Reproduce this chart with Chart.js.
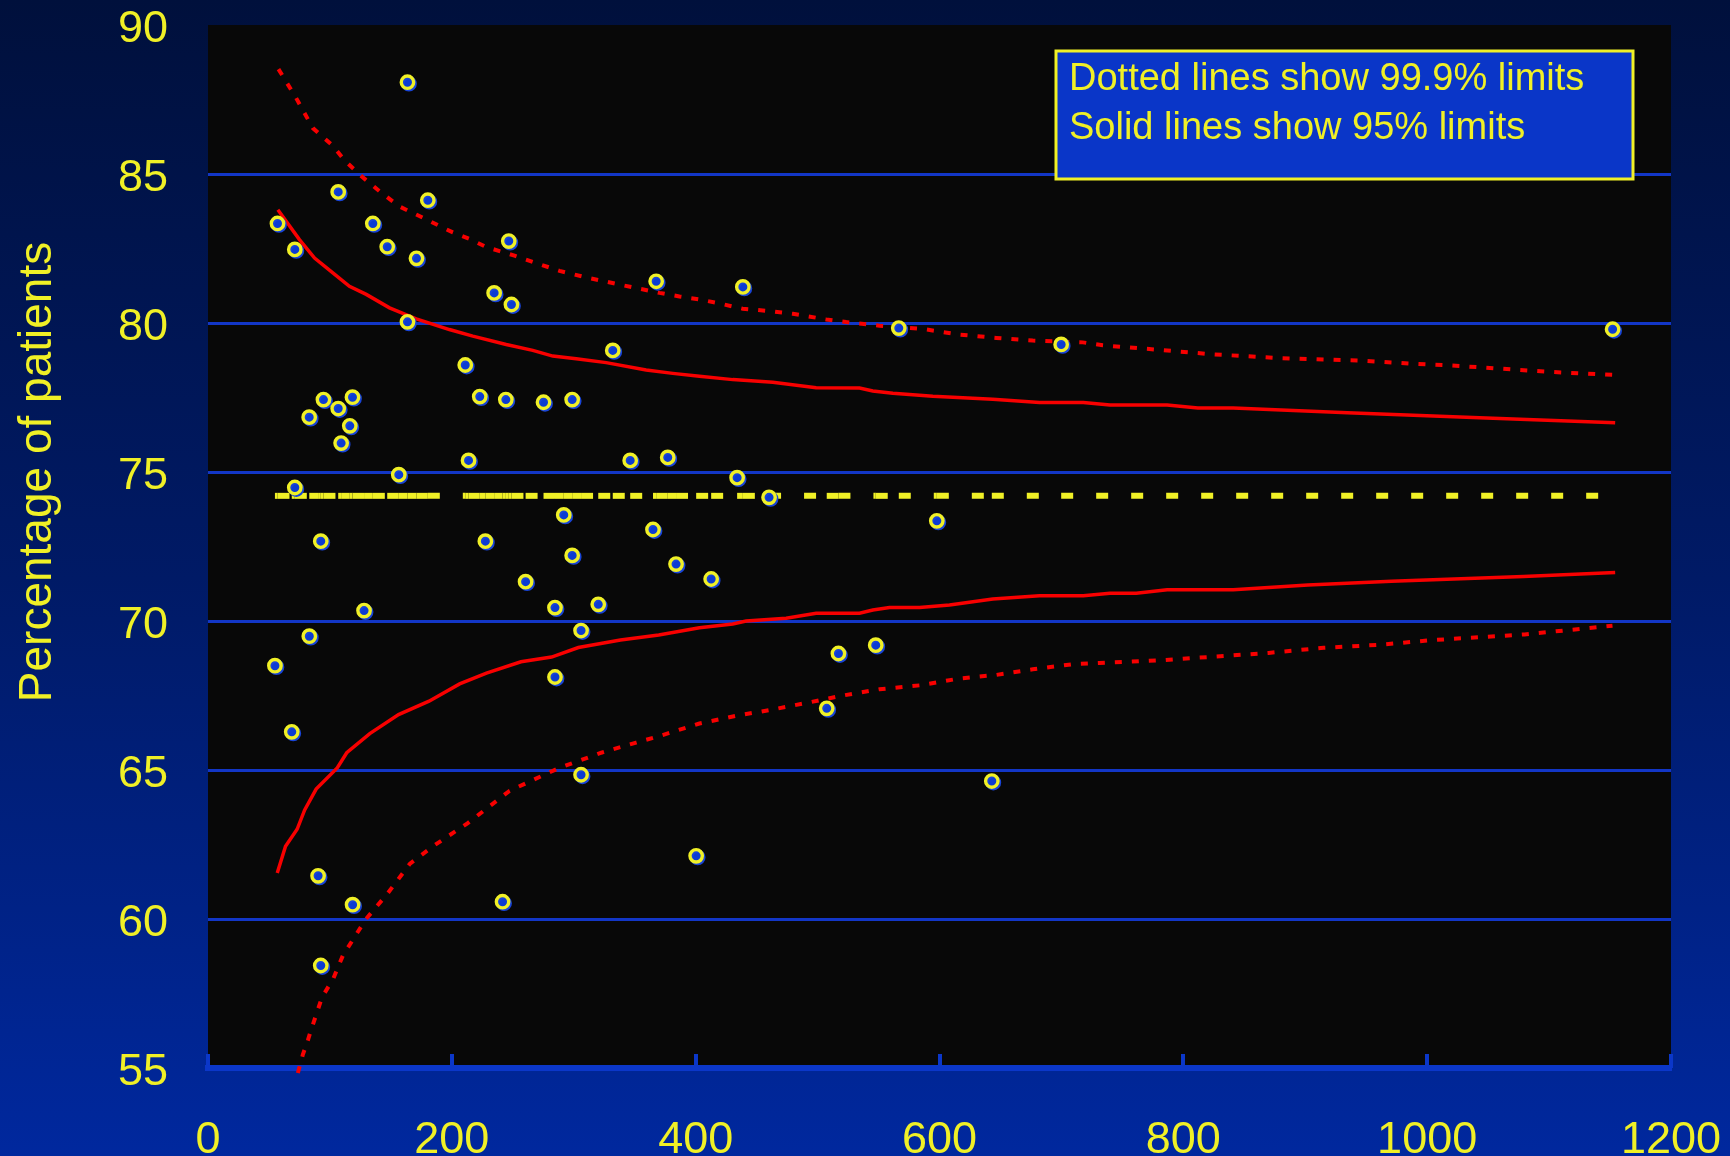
<!DOCTYPE html>
<html>
<head>
<meta charset="utf-8">
<script src="https://cdn.jsdelivr.net/npm/chart.js@4/dist/chart.umd.min.js"></script>
<style>
  html, body { margin: 0; padding: 0; width: 1730px; height: 1156px; overflow: hidden; background: #001a66; }
  #chart { display: block; }
</style>
</head>
<body>
<canvas id="chart" width="1730" height="1156"></canvas>
<script>
// Unit size (number of patients) and percentage achieved for each unit
const unitSize = [
  57.0, 71.2, 163.6, 106.8, 180.3, 135.2, 147.0, 171.0, 246.7, 367.6,
  438.7, 234.7, 248.9, 163.6, 566.6, 699.8, 1152.1, 332.0, 211.0, 94.7,
  118.5, 106.8, 222.9, 244.3, 275.2, 298.7, 83.0, 116.3, 109.2, 213.7,
  346.3, 377.1, 156.5, 434.0, 460.2, 71.2, 291.8, 597.8, 365.0, 92.5,
  227.5, 298.7, 383.9, 412.7, 260.5, 320.1, 284.6, 128.0, 306.0, 83.1,
  547.7, 517.1, 54.9, 284.6, 507.5, 68.7, 642.9, 306.0, 400.4, 90.3,
  118.6, 241.6, 92.5
];
const unitPercent = [
  83.34, 82.47, 88.08, 84.40, 84.12, 83.34, 82.56, 82.17, 82.75, 81.40,
  81.21, 81.01, 80.62, 80.04, 79.83, 79.28, 79.79, 79.08, 78.59, 77.43,
  77.51, 77.13, 77.53, 77.43, 77.34, 77.43, 76.84, 76.55, 75.97, 75.39,
  75.39, 75.49, 74.91, 74.81, 74.15, 74.48, 73.56, 73.36, 73.07, 72.68,
  72.68, 72.20, 71.91, 71.41, 71.32, 70.56, 70.45, 70.35, 69.68, 69.49,
  69.19, 68.91, 68.50, 68.12, 67.07, 66.28, 64.63, 64.84, 62.12, 61.45,
  60.48, 60.58, 58.44
];
// Overall percentage across all units
const overallPercent = 74.2;

// Control limits, [unit size, percentage]
const upper999 = [
  [57.8, 88.52], [72.3, 87.55], [86.0, 86.54], [102.4, 85.95], [112.0, 85.46],
  [124.3, 84.98], [140.7, 84.42], [157.0, 83.91], [170.8, 83.64], [200.8, 83.04],
  [214.5, 82.82], [228.2, 82.55], [251.4, 82.26], [266.4, 82.05], [288.3, 81.75],
  [310.2, 81.53], [337.5, 81.29], [370.3, 81.01], [386.7, 80.89], [403.1, 80.79],
  [416.8, 80.68], [438.6, 80.48], [460.5, 80.40], [479.7, 80.31], [507.0, 80.12],
  [523.5, 80.03], [550.8, 79.91], [586.3, 79.80], [616.4, 79.61], [646.5, 79.50],
  [676.5, 79.41], [717.5, 79.35], [734.0, 79.25], [780.0, 79.10], [824.0, 78.95],
  [880.0, 78.82], [945.5, 78.74], [988.8, 78.63], [1017.7, 78.58], [1059.3, 78.47],
  [1100.8, 78.36], [1152.0, 78.26]
];
const upper95 = [
  [57.3, 83.80], [75.0, 82.80], [87.4, 82.18], [102.4, 81.68], [116.0, 81.23],
  [129.8, 80.96], [148.9, 80.51], [170.8, 80.14], [198.0, 79.78], [217.2, 79.56],
  [244.6, 79.28], [266.4, 79.08], [282.8, 78.89], [302.0, 78.80], [326.6, 78.67],
  [359.4, 78.42], [381.2, 78.31], [403.1, 78.21], [430.4, 78.10], [463.3, 78.01],
  [498.8, 77.83], [534.4, 77.82], [545.3, 77.72], [561.7, 77.64], [594.5, 77.54],
  [643.7, 77.44], [682.0, 77.33], [718.0, 77.33], [739.8, 77.25], [786.7, 77.25],
  [811.9, 77.15], [840.9, 77.15], [934.6, 76.99], [1042.9, 76.82], [1154.2, 76.65]
];
const lower95 = [
  [56.8, 61.54], [63.6, 62.44], [73.1, 63.01], [79.3, 63.66], [88.7, 64.36],
  [106.0, 65.07], [113.8, 65.58], [132.7, 66.22], [156.3, 66.86], [181.3, 67.31],
  [206.4, 67.89], [228.4, 68.25], [256.7, 68.63], [281.8, 68.79], [303.8, 69.11],
  [338.3, 69.36], [369.7, 69.53], [403.1, 69.77], [430.4, 69.90], [441.4, 70.00],
  [474.2, 70.09], [498.8, 70.26], [534.4, 70.26], [545.3, 70.37], [559.0, 70.45],
  [583.6, 70.45], [608.2, 70.54], [643.7, 70.74], [682.0, 70.85], [718.0, 70.85],
  [739.8, 70.93], [761.4, 70.93], [786.7, 71.05], [840.9, 71.05], [902.2, 71.21],
  [970.7, 71.33], [1079.0, 71.49], [1154.2, 71.63]
];
const lower999 = [
  [73.7, 54.83], [77.8, 55.45], [81.9, 55.93], [84.1, 56.22], [93.5, 57.37],
  [102.9, 58.01], [110.7, 58.78], [121.7, 59.49], [129.6, 60.00], [146.8, 60.83],
  [165.7, 61.86], [184.5, 62.44], [212.8, 63.21], [247.3, 64.30], [288.1, 65.07],
  [322.6, 65.58], [351.2, 65.92], [370.3, 66.14], [403.1, 66.56], [435.9, 66.84],
  [460.5, 67.01], [493.4, 67.27], [520.7, 67.50], [550.8, 67.71], [583.6, 67.84],
  [616.4, 68.07], [646.5, 68.19], [676.5, 68.38], [709.3, 68.55], [731.2, 68.59],
  [780.0, 68.68], [824.0, 68.80], [870.0, 68.93], [915.0, 69.10], [960.0, 69.20],
  [1005.0, 69.36], [1080.0, 69.55], [1152.0, 69.84]
];

// Axis ticks and texts
const xTickValues = [0, 200, 400, 600, 800, 1000, 1200];
const yTickValues = [55, 60, 65, 70, 75, 80, 85, 90];
const yAxisTitle = 'Percentage of patients';
const keyLines = ['Dotted lines show 99.9% limits', 'Solid lines show 95% limits'];

const FONT = "'Liberation Sans', Arial, Helvetica, sans-serif";
const YELLOW = '#f0f026';
const RED = '#f80000';
const GRID_BLUE = '#1236c6';
const AXIS_BLUE = '#0b37c9';
const DOT_BLUE = '#0b3bd2';

const toPoints = pairs => pairs.map(p => ({ x: p[0], y: p[1] }));

const unitPoints = unitSize.map((x, i) => ({ x: x, y: unitPercent[i] }));
// Overall line runs through every unit size, so its dash pattern restarts at each unit
const meanXs = Array.from(new Set(unitSize)).sort((a, b) => a - b);
const meanPoints = meanXs.map(x => ({ x: x, y: overallPercent }));

// Alternating a tiny dash offset makes each segment its own stroke
const restartDash = { borderDashOffset: c => (c.p0DataIndex % 2 ? 0.001 : 0) };

const backdrop = {
  id: 'backdrop',
  beforeDraw(chart) {
    const { ctx, width, height, chartArea: a } = chart;
    ctx.save();
    const g = ctx.createLinearGradient(0, 0, 0, height);
    g.addColorStop(0, '#00103c');
    g.addColorStop(0.5, '#001a66');
    g.addColorStop(1, '#00289e');
    ctx.fillStyle = g;
    ctx.fillRect(0, 0, width, height);
    ctx.fillStyle = '#080808';
    ctx.fillRect(a.left, a.top, a.right - a.left, a.bottom - a.top);
    ctx.restore();
  }
};

// Short tick marks standing up from the x axis into the plot
const innerTicks = {
  id: 'innerTicks',
  beforeDatasetsDraw(chart) {
    const { ctx, chartArea: a } = chart;
    const xs = chart.scales.x;
    ctx.save();
    ctx.fillStyle = AXIS_BLUE;
    xs.ticks.forEach(t => {
      const px = Math.round(xs.getPixelForValue(t.value));
      ctx.fillRect(px - 2, a.bottom - 14, 4, 14);
    });
    ctx.restore();
  }
};

// Blue offset shadow under each unit marker
const dotShadow = {
  id: 'dotShadow',
  beforeDatasetDraw(chart, args) {
    if (chart.data.datasets[args.index].label !== 'Units') return;
    const ctx = chart.ctx;
    ctx.save();
    ctx.shadowColor = '#1844d8';
    ctx.shadowOffsetX = 1.5;
    ctx.shadowOffsetY = 1.5;
    ctx.shadowBlur = 0;
  },
  afterDatasetDraw(chart, args) {
    if (chart.data.datasets[args.index].label !== 'Units') return;
    chart.ctx.restore();
  }
};

const annotations = {
  id: 'annotations',
  afterDraw(chart) {
    const { ctx, chartArea: a } = chart;
    ctx.save();
    // y axis title
    ctx.fillStyle = YELLOW;
    ctx.font = '46px ' + FONT;
    ctx.textAlign = 'center';
    ctx.textBaseline = 'alphabetic';
    ctx.translate(51, 472);
    ctx.rotate(-Math.PI / 2);
    ctx.fillText(yAxisTitle, 0, 0);
    ctx.restore();

    // key box
    ctx.save();
    const bx = a.right - 615, by = a.top + 26, bw = 577, bh = 128;
    ctx.fillStyle = '#0a36c8';
    ctx.fillRect(bx, by, bw, bh);
    ctx.strokeStyle = YELLOW;
    ctx.lineWidth = 3;
    ctx.strokeRect(bx, by, bw, bh);
    ctx.fillStyle = YELLOW;
    ctx.font = '38px ' + FONT;
    ctx.textAlign = 'left';
    ctx.textBaseline = 'alphabetic';
    keyLines.forEach((t, i) => ctx.fillText(t, bx + 13, by + 39 + i * 49));
    ctx.restore();
  }
};

new Chart(document.getElementById('chart'), {
  type: 'scatter',
  data: {
    datasets: [
      {
        label: 'Units',
        type: 'scatter',
        data: unitPoints,
        order: 0,
        pointRadius: 6.2,
        pointHoverRadius: 6.2,
        borderWidth: 3.4,
        backgroundColor: DOT_BLUE,
        borderColor: YELLOW
      },
      {
        label: 'Overall',
        type: 'line',
        data: meanPoints,
        order: 1,
        borderColor: YELLOW,
        borderWidth: 6,
        borderDash: [12, 23],
        borderCapStyle: 'butt',
        segment: restartDash,
        pointRadius: 0,
        tension: 0,
        fill: false
      },
      {
        label: '95% upper',
        type: 'line',
        data: toPoints(upper95),
        order: 2,
        borderColor: RED,
        borderWidth: 3.5,
        pointRadius: 0,
        tension: 0,
        fill: false
      },
      {
        label: '95% lower',
        type: 'line',
        data: toPoints(lower95),
        order: 2,
        borderColor: RED,
        borderWidth: 3.5,
        pointRadius: 0,
        tension: 0,
        fill: false
      },
      {
        label: '99.9% upper',
        type: 'line',
        data: toPoints(upper999),
        order: 3,
        borderColor: RED,
        borderWidth: 4,
        borderDash: [7, 10],
        pointRadius: 0,
        tension: 0,
        fill: false
      },
      {
        label: '99.9% lower',
        type: 'line',
        data: toPoints(lower999),
        order: 3,
        clip: false,
        borderColor: RED,
        borderWidth: 4,
        borderDash: [7, 10],
        pointRadius: 0,
        tension: 0,
        fill: false
      }
    ]
  },
  options: {
    responsive: false,
    devicePixelRatio: 1,
    animation: false,
    events: [],
    layout: { autoPadding: false, padding: { top: 25, right: 59, bottom: 0, left: 0 } },
    plugins: {
      legend: { display: false },
      tooltip: { enabled: false },
      title: { display: false }
    },
    scales: {
      x: {
        type: 'linear',
        min: 0,
        max: 1200,
        afterBuildTicks: s => { s.ticks = xTickValues.map(v => ({ value: v })); },
        afterFit: s => { s.height = 88; s.paddingLeft = 0; s.paddingRight = 0; },
        ticks: {
          color: YELLOW,
          font: { family: FONT, size: 45, lineHeight: 1.2 },
          padding: 38,
          maxRotation: 0,
          autoSkip: false,
          callback: v => String(v)
        },
        grid: { display: false },
        border: { display: true, color: AXIS_BLUE, width: 6 }
      },
      y: {
        type: 'linear',
        min: 55,
        max: 90,
        afterBuildTicks: s => { s.ticks = yTickValues.map(v => ({ value: v })); },
        afterFit: s => { s.width = 208; s.paddingTop = 0; s.paddingBottom = 0; },
        ticks: {
          color: YELLOW,
          font: { family: FONT, size: 45, lineHeight: 1 },
          padding: 40,
          labelOffset: 5,
          autoSkip: false,
          callback: v => String(v)
        },
        grid: {
          drawTicks: false,
          lineWidth: 3,
          color: c => (c.tick && (c.tick.value === 55 || c.tick.value === 90)) ? 'rgba(0,0,0,0)' : GRID_BLUE
        },
        border: { display: false }
      }
    }
  },
  plugins: [backdrop, innerTicks, dotShadow, annotations]
});
</script>
</body>
</html>
